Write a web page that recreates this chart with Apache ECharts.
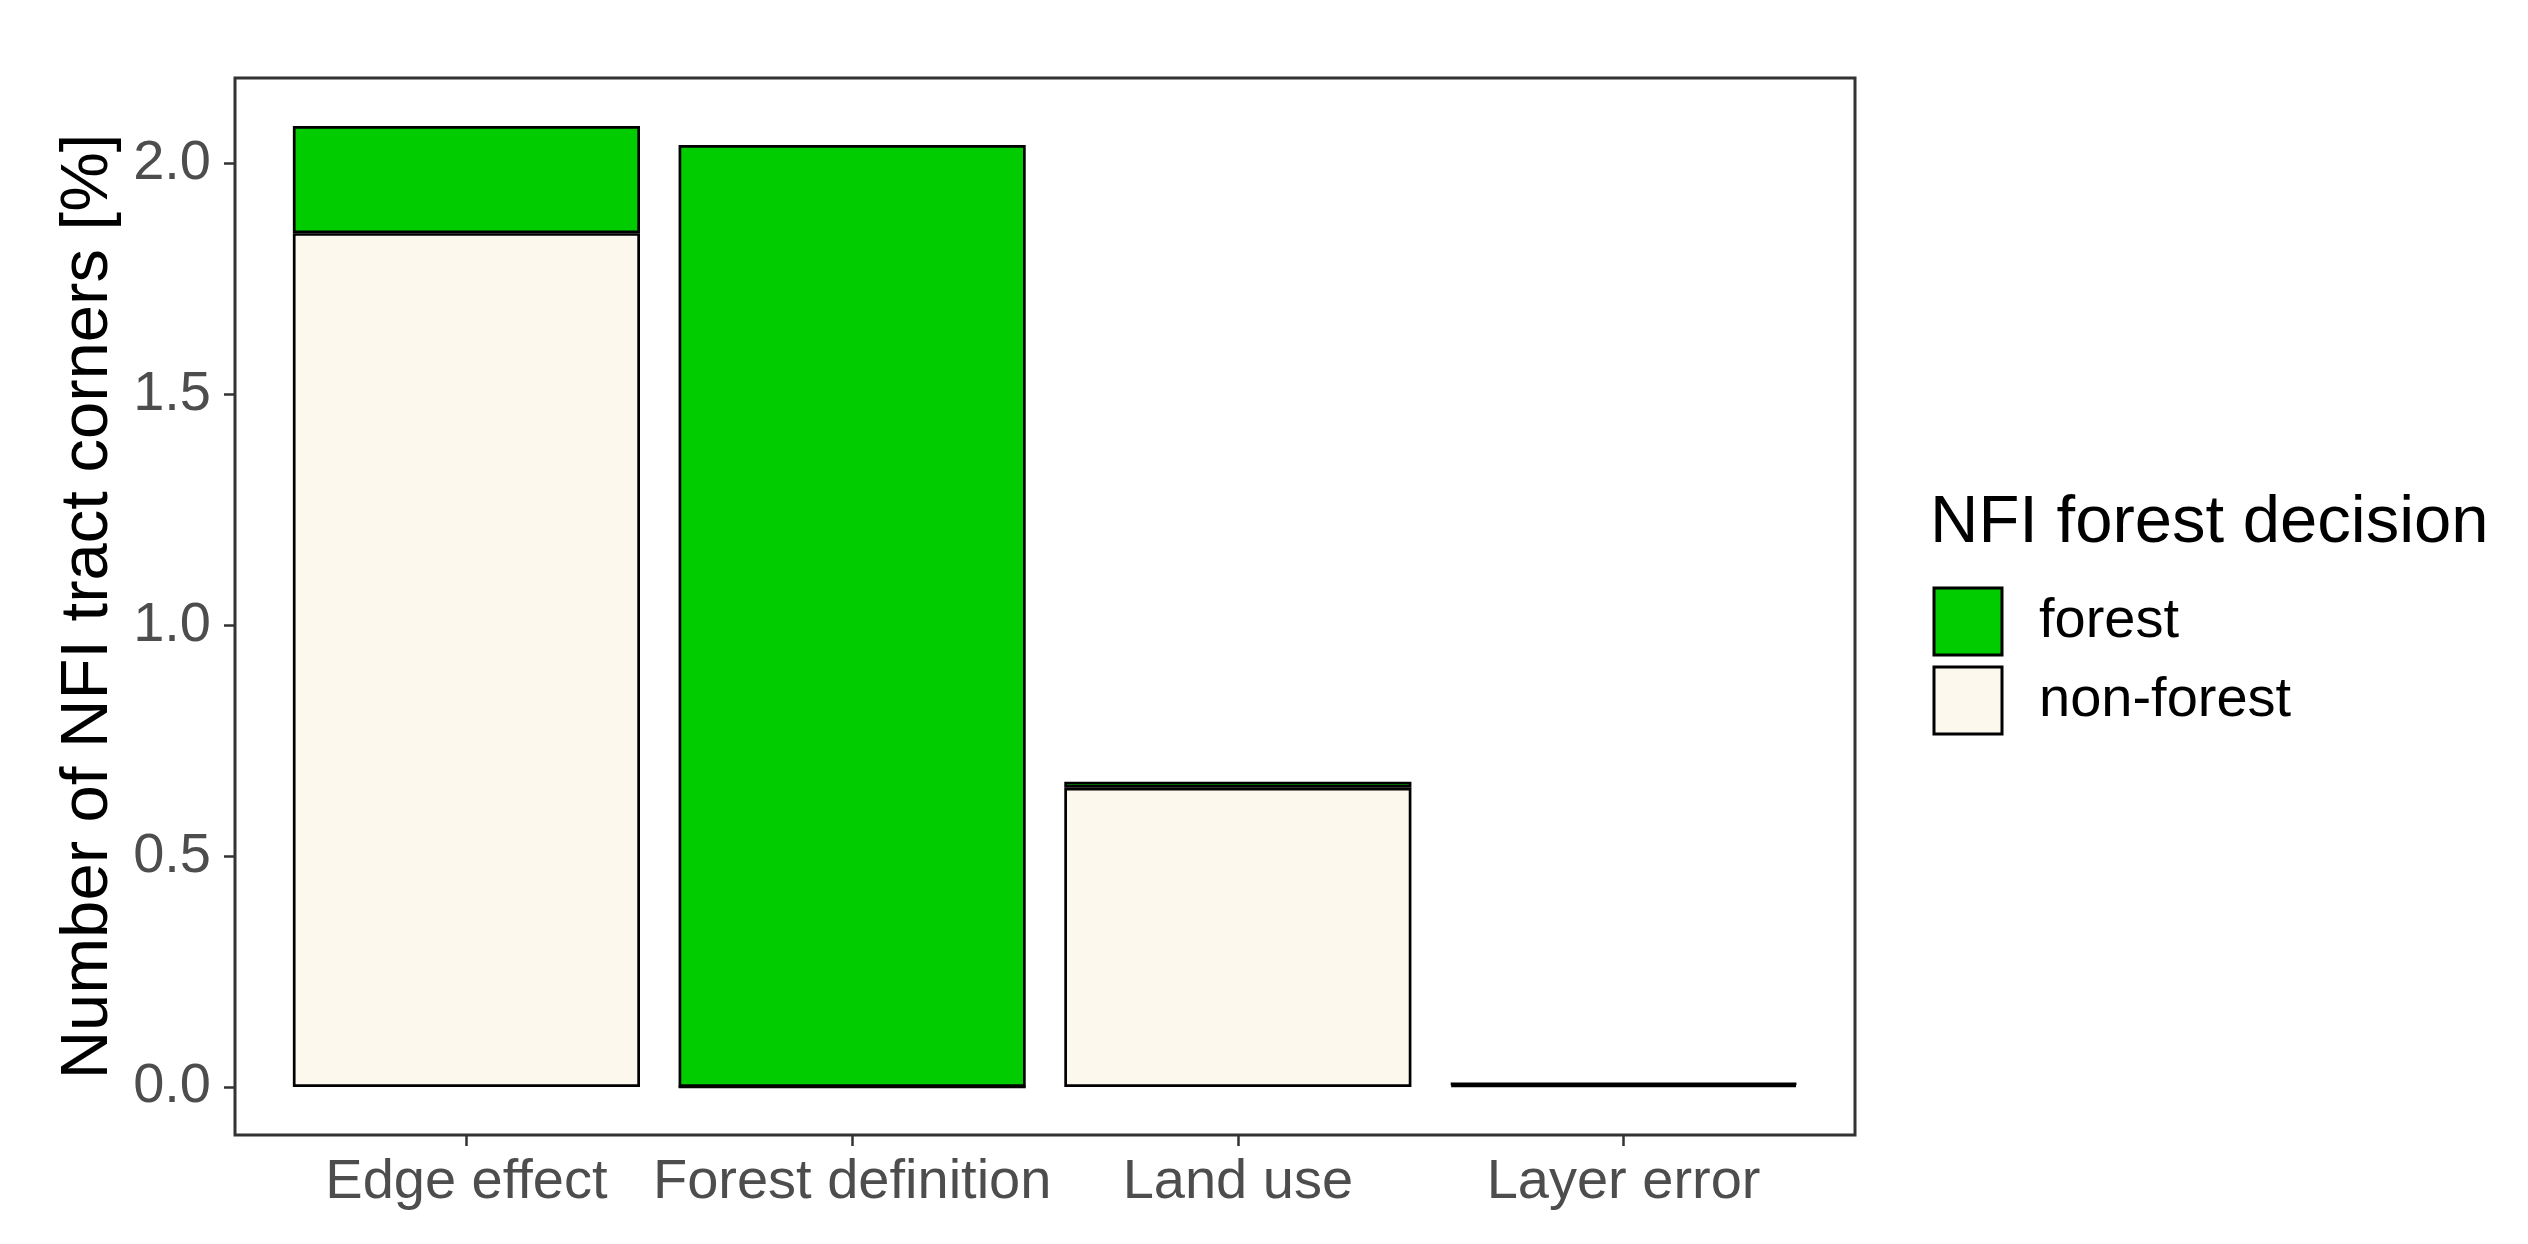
<!DOCTYPE html>
<html>
<head>
<meta charset="utf-8">
<script src="https://cdn.jsdelivr.net/npm/echarts@6/dist/echarts.min.js"></script>
<style>
html,body{margin:0;padding:0;background:#fff;}
#chart{width:2528px;height:1244px;}
</style>
</head>
<body>
<div id="chart"></div>
<script>
// ---- data ----
var categories = ['Edge effect', 'Forest definition', 'Land use', 'Layer error'];
var nonForestValues = [1.849, 0.000, 0.648, 0.005];
var forestValues = [0.232, 2.040, 0.013, 0.003];
var yTickValues = [0, 0.5, 1.0, 1.5, 2.0];
var seriesNames = ['forest', 'non-forest'];
var legendTitle = 'NFI forest decision';
var yAxisTitle = 'Number of NFI tract corners [%]';

// ---- layout ----
var FONT = '"Liberation Sans", Arial, sans-serif';
var frameLeft = 235, frameRight = 1855, frameTop = 78, frameBottom = 1135;
var frameW = frameRight - frameLeft;
var unit = frameW / 4.2;            // ggplot discrete expansion 0.6 on each side
var innerLeft = frameLeft + 0.1 * unit;
var innerW = 4 * unit;

var totals = nonForestValues.map(function (v, i) { return v + forestValues[i]; });
var yMaxData = Math.max.apply(null, totals);
var pad = 0.05 * yMaxData;
var yMin = -pad, yMax = yMaxData + pad;

var chart = echarts.init(document.getElementById('chart'), null, {renderer: 'canvas'});
var option = {
  backgroundColor: '#ffffff',
  animation: false,
  textStyle: {fontFamily: FONT},
  title: {
    text: legendTitle,
    left: 1930,
    top: 490,
    padding: 0,
    textStyle: {fontSize: 67, fontWeight: 'normal', color: '#000000', fontFamily: FONT}
  },
  legend: {
    data: seriesNames,
    orient: 'vertical',
    left: 1932.5,
    top: 586.5,
    padding: 0,
    itemWidth: 68,
    itemHeight: 67,
    itemGap: 9,
    icon: 'rect',
    itemStyle: {borderColor: '#000000', borderWidth: 3},
    textStyle: {fontSize: 56, color: '#000000', fontFamily: FONT, padding: [0, 0, 0, 32]},
    selectedMode: false
  },
  grid: [
    {left: frameLeft, top: frameTop, width: frameW, height: frameBottom - frameTop,
     show: true, borderColor: '#333333', borderWidth: 3, backgroundColor: 'transparent',
     containLabel: false},
    {left: innerLeft, top: frameTop, width: innerW, height: frameBottom - frameTop,
     show: false, containLabel: false}
  ],
  xAxis: [
    {gridIndex: 0, type: 'value', min: 0, max: 1, show: false},
    {gridIndex: 1, type: 'category', data: categories, boundaryGap: true, position: 'bottom',
     axisLine: {show: false, onZero: false},
     axisTick: {show: true, alignWithLabel: true, length: 11, inside: false,
                lineStyle: {color: '#333333', width: 2.5}},
     axisLabel: {show: true, fontSize: 56, color: '#4D4D4D', margin: 20, fontFamily: FONT,
                 interval: 0},
     splitLine: {show: false}}
  ],
  yAxis: [
    {gridIndex: 0, type: 'value', min: yMin, max: yMax, position: 'left',
     name: yAxisTitle, nameLocation: 'middle', nameRotate: 90, nameGap: 112,
     nameTextStyle: {fontSize: 67, color: '#000000', fontFamily: FONT},
     axisLine: {show: false, onZero: false},
     axisTick: {show: true, length: 11, inside: false, customValues: yTickValues,
                lineStyle: {color: '#333333', width: 2.5}},
     axisLabel: {show: true, fontSize: 56, color: '#4D4D4D', margin: 24, fontFamily: FONT,
                 customValues: yTickValues,
                 formatter: function (v) { return v.toFixed(1); }},
     splitLine: {show: false}},
    {gridIndex: 1, type: 'value', min: yMin, max: yMax, show: false,
     splitLine: {show: false}}
  ],
  series: [
    {name: 'non-forest', type: 'bar', stack: 'total', xAxisIndex: 1, yAxisIndex: 1,
     data: nonForestValues, barWidth: '90%',
     itemStyle: {color: '#FDF8EE', borderColor: '#000000', borderWidth: 2.7}},
    {name: 'forest', type: 'bar', stack: 'total', xAxisIndex: 1, yAxisIndex: 1,
     data: forestValues, barWidth: '90%',
     itemStyle: {color: '#00CC00', borderColor: '#000000', borderWidth: 2.7}}
  ]
};
chart.setOption(option);
</script>
</body>
</html>
